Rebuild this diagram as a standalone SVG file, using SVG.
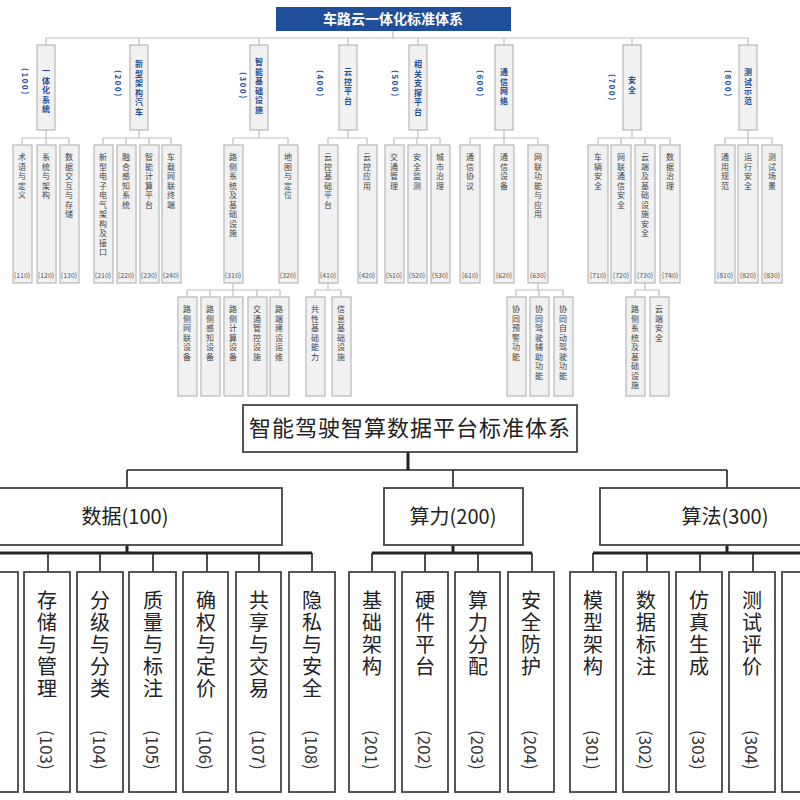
<svg xmlns="http://www.w3.org/2000/svg" width="800" height="800" viewBox="0 0 800 800">
<style>
.b{fill:#f1f1f1;stroke:#b8b8b8;stroke-width:1.2}
.v{font-family:"Noto Sans CJK SC",sans-serif;writing-mode:vertical-rl;font-size:8px;fill:#444;letter-spacing:1.5px}
.l1{fill:#1f4e9a;font-weight:bold}
.n{font-family:"Noto Sans CJK SC",sans-serif;font-size:7px;fill:#555;text-anchor:middle}
.c{fill:none;stroke:#bdbdbd;stroke-width:1.2}
.k{fill:#fff;stroke:#444;stroke-width:1.8}
.kv{font-family:"Noto Sans CJK SC",sans-serif;writing-mode:vertical-rl;font-size:20px;fill:#222;letter-spacing:2px}
.kn{font-family:"Noto Sans CJK SC",sans-serif;writing-mode:vertical-rl;font-size:17px;fill:#333}
.h{font-family:"Noto Sans CJK SC",sans-serif;font-size:20px;fill:#222;text-anchor:middle}
.t{fill:none;stroke:#222;stroke-width:1.6}
.tt{fill:none;stroke:#222;stroke-width:3}
</style>
<g id="connectors">
<path class="c" d="M46 38H748M46 38V45M139 38V45M259 38V45M348 38V45M418 38V45M504 38V45M632 38V45M748 38V45M393 31V38"/>
<path class="c" d="M46 130V138M22 138H69M22 138V145M46 138V145M69 138V145"/>
<path class="c" d="M139 130V138M103 138H171M103 138V145M126 138V145M149 138V145M171 138V145"/>
<path class="c" d="M259 130V138M233 138H288M233 138V145M288 138V145"/>
<path class="c" d="M348 130V138M328 138H367M328 138V145M367 138V145"/>
<path class="c" d="M418 130V138M394 138H440M394 138V145M417 138V145M440 138V145"/>
<path class="c" d="M504 130V138M470 138H538M470 138V145M504 138V145M538 138V145"/>
<path class="c" d="M632 130V138M598 138H670M598 138V145M621 138V145M645 138V145M670 138V145"/>
<path class="c" d="M748 130V138M725 138H772M725 138V145M748 138V145M772 138V145"/>
<path class="c" d="M233 283V290M187 290H280M187 290V297M210 290V297M233 290V297M257 290V297M280 290V297"/>
<path class="c" d="M328 283V290M315 290H341M315 290V297M341 290V297"/>
<path class="c" d="M538 283V290M516 290H563M516 290V297M539 290V297M563 290V297"/>
<path class="c" d="M645 283V290M635 290H659M635 290V297M659 290V297"/>
<path class="tt" d="M408 452V470"/>
<path class="t" d="M127 470H727M127 470V488M453 470V488M727 470V488"/>
<path class="tt" d="M127 545V553M453 545V553M727 545V553M0 553H312M372 553H532M593 553H800"/>
<path class="t" d="M48 553V572M100 553V572M153 553V572M207 553V572M259 553V572M312 553V572M372 553V572M425 553V572M478 553V572M532 553V572M593 553V572M647 553V572M700 553V572M753 553V572"/>
</g>
<g id="title">
<rect x="276" y="7" width="235" height="24" fill="#1f4e9a"/>
<text x="393" y="24" text-anchor="middle" font-family="Noto Sans CJK SC,sans-serif" font-size="14" font-weight="bold" fill="#fff">车路云一体化标准体系</text>
</g>
<g id="level1">
<rect class="b" x="37" y="45" width="18" height="85"/><text class="v l1" x="46" y="67">一体化系统</text><text class="v l1" x="25" y="68">(100)</text>
<rect class="b" x="130" y="45" width="18" height="85"/><text class="v l1" x="139" y="60">新型架构汽车</text><text class="v l1" x="118" y="70">(200)</text>
<rect class="b" x="250" y="45" width="18" height="85"/><text class="v l1" x="259" y="58">智能基础设施</text><text class="v l1" x="243" y="72">(300)</text>
<rect class="b" x="339" y="45" width="18" height="85"/><text class="v l1" x="348" y="68">云控平台</text><text class="v l1" x="320" y="70">(400)</text>
<rect class="b" x="409" y="45" width="18" height="85"/><text class="v l1" x="418" y="60">相关支撑平台</text><text class="v l1" x="395" y="70">(500)</text>
<rect class="b" x="495" y="45" width="18" height="85"/><text class="v l1" x="504" y="68">通信网络</text><text class="v l1" x="480" y="70">(600)</text>
<rect class="b" x="623" y="45" width="18" height="85"/><text class="v l1" x="632" y="76">安全</text><text class="v l1" x="612" y="74">(700)</text>
<rect class="b" x="739" y="45" width="18" height="85"/><text class="v l1" x="748" y="68">测试示范</text><text class="v l1" x="728" y="70">(800)</text>
</g>
<g id="level2">
<rect class="b" x="13" y="145" width="19" height="138"/><text class="v" x="22" y="153">术语与定义</text><text class="n" x="22" y="278">(110)</text>
<rect class="b" x="37" y="145" width="19" height="138"/><text class="v" x="46" y="153">系统与架构</text><text class="n" x="46" y="278">(120)</text>
<rect class="b" x="60" y="145" width="19" height="138"/><text class="v" x="69" y="153">数据交互与存储</text><text class="n" x="69" y="278">(130)</text>
<rect class="b" x="94" y="145" width="19" height="138"/><text class="v" x="103" y="153">新型电子电气架构及接口</text><text class="n" x="103" y="278">(210)</text>
<rect class="b" x="117" y="145" width="19" height="138"/><text class="v" x="126" y="153">融合感知系统</text><text class="n" x="126" y="278">(220)</text>
<rect class="b" x="140" y="145" width="19" height="138"/><text class="v" x="149" y="153">智能计算平台</text><text class="n" x="149" y="278">(230)</text>
<rect class="b" x="162" y="145" width="19" height="138"/><text class="v" x="171" y="153">车载网联终端</text><text class="n" x="171" y="278">(240)</text>
<rect class="b" x="224" y="145" width="19" height="138"/><text class="v" x="233" y="153">路侧系统及基础设施</text><text class="n" x="233" y="278">(310)</text>
<rect class="b" x="279" y="145" width="19" height="138"/><text class="v" x="288" y="153">地图与定位</text><text class="n" x="288" y="278">(320)</text>
<rect class="b" x="319" y="145" width="19" height="138"/><text class="v" x="328" y="153">云控基础平台</text><text class="n" x="328" y="278">(410)</text>
<rect class="b" x="358" y="145" width="19" height="138"/><text class="v" x="367" y="153">云控应用</text><text class="n" x="367" y="278">(420)</text>
<rect class="b" x="385" y="145" width="19" height="138"/><text class="v" x="394" y="153">交通管理</text><text class="n" x="394" y="278">(510)</text>
<rect class="b" x="408" y="145" width="19" height="138"/><text class="v" x="417" y="153">安全监测</text><text class="n" x="417" y="278">(520)</text>
<rect class="b" x="431" y="145" width="19" height="138"/><text class="v" x="440" y="153">城市治理</text><text class="n" x="440" y="278">(530)</text>
<rect class="b" x="460" y="145" width="20" height="138"/><text class="v" x="470" y="153">通信协议</text><text class="n" x="470" y="278">(610)</text>
<rect class="b" x="494" y="145" width="20" height="138"/><text class="v" x="504" y="153">通信设备</text><text class="n" x="504" y="278">(620)</text>
<rect class="b" x="528" y="145" width="20" height="138"/><text class="v" x="538" y="153">网联功能与应用</text><text class="n" x="538" y="278">(630)</text>
<rect class="b" x="588" y="145" width="20" height="138"/><text class="v" x="598" y="153">车辆安全</text><text class="n" x="598" y="278">(710)</text>
<rect class="b" x="611" y="145" width="20" height="138"/><text class="v" x="621" y="153">网联通信安全</text><text class="n" x="621" y="278">(720)</text>
<rect class="b" x="635" y="145" width="20" height="138"/><text class="v" x="645" y="153">云端及基础设施安全</text><text class="n" x="645" y="278">(730)</text>
<rect class="b" x="660" y="145" width="20" height="138"/><text class="v" x="670" y="153">数据治理</text><text class="n" x="670" y="278">(740)</text>
<rect class="b" x="715" y="145" width="20" height="138"/><text class="v" x="725" y="153">通用规范</text><text class="n" x="725" y="278">(810)</text>
<rect class="b" x="738" y="145" width="20" height="138"/><text class="v" x="748" y="153">运行安全</text><text class="n" x="748" y="278">(820)</text>
<rect class="b" x="762" y="145" width="20" height="138"/><text class="v" x="772" y="153">测试场景</text><text class="n" x="772" y="278">(830)</text>
</g>
<g id="level3">
<rect class="b" x="178" y="297" width="19" height="99"/><text class="v" x="187" y="305">路侧网联设备</text>
<rect class="b" x="201" y="297" width="19" height="99"/><text class="v" x="210" y="305">路侧感知设备</text>
<rect class="b" x="224" y="297" width="19" height="99"/><text class="v" x="233" y="305">路侧计算设备</text>
<rect class="b" x="248" y="297" width="19" height="99"/><text class="v" x="257" y="305">交通管控设施</text>
<rect class="b" x="270" y="297" width="19" height="99"/><text class="v" x="279" y="305">路端建设运维</text>
<rect class="b" x="306" y="297" width="19" height="99"/><text class="v" x="315" y="305">共性基础能力</text>
<rect class="b" x="332" y="297" width="19" height="99"/><text class="v" x="341" y="305">信息基础设施</text>
<rect class="b" x="507" y="297" width="19" height="99"/><text class="v" x="516" y="305">协同预警功能</text>
<rect class="b" x="530" y="297" width="19" height="99"/><text class="v" x="539" y="305">协同驾驶辅助功能</text>
<rect class="b" x="554" y="297" width="19" height="99"/><text class="v" x="563" y="305">协同自动驾驶功能</text>
<rect class="b" x="626" y="297" width="19" height="99"/><text class="v" x="635" y="305">路侧系统及基础设施</text>
<rect class="b" x="650" y="297" width="19" height="99"/><text class="v" x="659" y="305">云端安全</text>
</g>
<g id="main">
<rect class="k" x="243" y="405" width="334" height="47"/>
<text x="410" y="436" text-anchor="middle" font-family="Noto Sans CJK SC,sans-serif" font-size="22" fill="#222" letter-spacing="1">智能驾驶智算数据平台标准体系</text>
</g>
<g id="data"><rect class="k" x="-5" y="488" width="287" height="57"/><text class="h" x="125" y="524">数据(100)</text></g>
<g id="compute"><rect class="k" x="384" y="488" width="139" height="57"/><text class="h" x="453" y="524">算力(200)</text></g>
<g id="algo"><rect class="k" x="600" y="488" width="210" height="57"/><text class="h" x="725" y="524">算法(300)</text></g>
<g id="children">
<rect class="k" x="-10" y="572" width="28" height="220"/>
<rect class="k" x="24" y="572" width="46" height="220"/><text class="kv" x="47" y="590">存储与管理</text><text class="kn" x="47" y="730">(103)</text>
<rect class="k" x="77" y="572" width="46" height="220"/><text class="kv" x="100" y="590">分级与分类</text><text class="kn" x="100" y="730">(104)</text>
<rect class="k" x="129" y="572" width="47" height="220"/><text class="kv" x="153" y="590">质量与标注</text><text class="kn" x="153" y="730">(105)</text>
<rect class="k" x="183" y="572" width="45" height="220"/><text class="kv" x="206" y="590">确权与定价</text><text class="kn" x="206" y="730">(106)</text>
<rect class="k" x="236" y="572" width="45" height="220"/><text class="kv" x="259" y="590">共享与交易</text><text class="kn" x="259" y="730">(107)</text>
<rect class="k" x="289" y="572" width="46" height="220"/><text class="kv" x="312" y="590">隐私与安全</text><text class="kn" x="312" y="730">(108)</text>
<rect class="k" x="349" y="572" width="46" height="220"/><text class="kv" x="372" y="590">基础架构</text><text class="kn" x="372" y="730">(201)</text>
<rect class="k" x="402" y="572" width="46" height="220"/><text class="kv" x="425" y="590">硬件平台</text><text class="kn" x="425" y="730">(202)</text>
<rect class="k" x="455" y="572" width="45" height="220"/><text class="kv" x="478" y="590">算力分配</text><text class="kn" x="478" y="730">(203)</text>
<rect class="k" x="508" y="572" width="46" height="220"/><text class="kv" x="531" y="590">安全防护</text><text class="kn" x="531" y="730">(204)</text>
<rect class="k" x="570" y="572" width="46" height="220"/><text class="kv" x="593" y="590">模型架构</text><text class="kn" x="593" y="730">(301)</text>
<rect class="k" x="623" y="572" width="46" height="220"/><text class="kv" x="646" y="590">数据标注</text><text class="kn" x="646" y="730">(302)</text>
<rect class="k" x="676" y="572" width="46" height="220"/><text class="kv" x="699" y="590">仿真生成</text><text class="kn" x="699" y="730">(303)</text>
<rect class="k" x="729" y="572" width="46" height="220"/><text class="kv" x="752" y="590">测试评价</text><text class="kn" x="752" y="730">(304)</text>
<rect class="k" x="782" y="572" width="28" height="220"/>
</g>
</svg>
